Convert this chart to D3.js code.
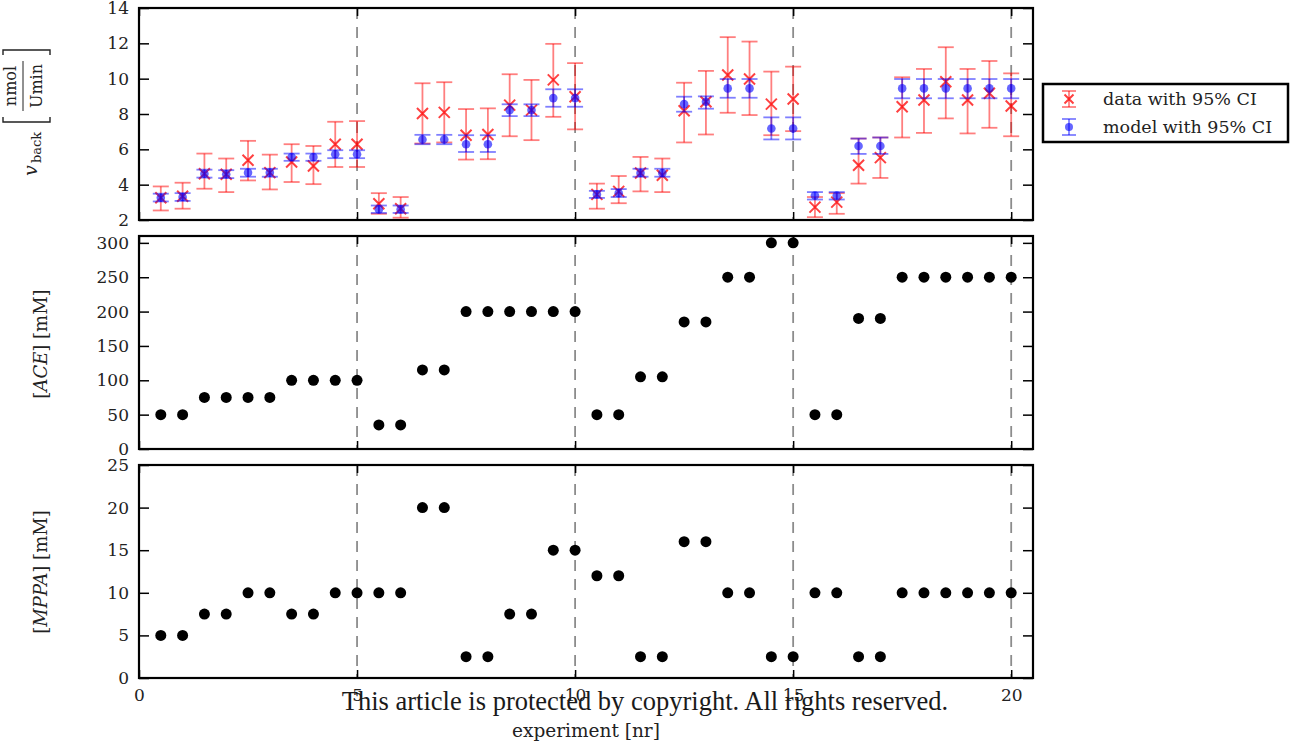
<!DOCTYPE html>
<html>
<head>
<meta charset="utf-8">
<script src="https://cdn.jsdelivr.net/npm/d3@7"></script>
<style>
  html, body { margin: 0; padding: 0; background: #fff; }
  svg { display: block; }
</style>
</head>
<body>
<svg id="chart" width="1291" height="742"></svg>
<script>
// Experiment index (two replicates per experiment)
const experiment = [0.5, 1, 1.5, 2, 2.5, 3, 3.5, 4, 4.5, 5,
                    5.5, 6, 6.5, 7, 7.5, 8, 8.5, 9, 9.5, 10,
                    10.5, 11, 11.5, 12, 12.5, 13, 13.5, 14, 14.5, 15,
                    15.5, 16, 16.5, 17, 17.5, 18, 18.5, 19, 19.5, 20];

// Measured back-reaction rate with 95% CI
const rateData   = [3.26, 3.34, 4.62, 4.59, 5.38, 4.68, 5.28, 5.06, 6.29, 6.29,
                    2.92, 2.64, 8.03, 8.09, 6.80, 6.84, 8.50, 8.22, 9.93, 8.98,
                    3.45, 3.62, 4.66, 4.53, 8.18, 8.69, 10.21, 9.98, 8.56, 8.85,
                    2.73, 3.01, 5.10, 5.53, 8.41, 8.79, 9.83, 8.79, 9.17, 8.45];
const rateDataLo = [2.54, 2.64, 3.77, 3.58, 4.24, 3.73, 4.15, 4.03, 5.00, 5.00,
                    2.35, 2.13, 6.33, 6.39, 5.42, 5.44, 6.74, 6.52, 7.84, 7.13,
                    2.64, 2.95, 3.62, 3.58, 6.39, 6.84, 8.07, 7.94, 6.80, 7.03,
                    2.16, 2.35, 4.06, 4.38, 6.67, 6.93, 7.75, 6.90, 7.22, 6.74];
const rateDataHi = [3.90, 4.11, 5.76, 5.48, 6.48, 5.70, 6.29, 6.19, 7.56, 7.60,
                    3.52, 3.30, 9.74, 9.80, 8.28, 8.32, 10.25, 9.93, 11.97, 10.88,
                    4.06, 4.49, 5.57, 5.48, 9.77, 10.44, 12.35, 12.10, 10.40, 10.68,
                    3.30, 3.52, 6.61, 6.67, 10.08, 10.55, 11.78, 10.55, 11.00, 10.30];

// Model prediction with 95% CI
const rateModel   = [3.26, 3.30, 4.62, 4.59, 4.68, 4.68, 5.57, 5.57, 5.72, 5.72,
                     2.60, 2.60, 6.56, 6.56, 6.29, 6.29, 8.22, 8.22, 8.90, 8.90,
                     3.45, 3.52, 4.66, 4.66, 8.56, 8.69, 9.45, 9.45, 7.18, 7.18,
                     3.39, 3.39, 6.19, 6.19, 9.45, 9.45, 9.45, 9.45, 9.45, 9.45];
const rateModelLo = [3.05, 3.08, 4.40, 4.37, 4.45, 4.45, 5.35, 5.35, 5.50, 5.50,
                     2.40, 2.40, 6.29, 6.29, 5.85, 5.85, 7.88, 7.88, 8.41, 8.41,
                     3.25, 3.30, 4.45, 4.45, 8.13, 8.30, 8.92, 8.92, 6.56, 6.56,
                     3.16, 3.16, 5.74, 5.74, 8.89, 8.89, 8.89, 8.89, 8.89, 8.89];
const rateModelHi = [3.49, 3.52, 4.85, 4.82, 4.90, 4.90, 5.76, 5.76, 5.95, 5.95,
                     2.82, 2.82, 6.82, 6.82, 6.80, 6.80, 8.55, 8.55, 9.40, 9.40,
                     3.65, 3.75, 4.90, 4.90, 8.98, 9.00, 9.98, 9.98, 7.81, 7.81,
                     3.58, 3.58, 6.61, 6.67, 9.98, 9.98, 9.98, 9.98, 9.98, 9.98];

// Substrate concentrations [mM]
const aceConc  = [50, 50, 75, 75, 75, 75, 100, 100, 100, 100,
                  35, 35, 115, 115, 200, 200, 200, 200, 200, 200,
                  50, 50, 105, 105, 185, 185, 250, 250, 300, 300,
                  50, 50, 190, 190, 250, 250, 250, 250, 250, 250];
const mppaConc = [5, 5, 7.5, 7.5, 10, 10, 7.5, 7.5, 10, 10,
                  10, 10, 20, 20, 2.5, 2.5, 7.5, 7.5, 15, 15,
                  12, 12, 2.5, 2.5, 16, 16, 10, 10, 2.5, 2.5,
                  10, 10, 2.5, 2.5, 10, 10, 10, 10, 10, 10];

// Tick values
const rateTicks = [2, 4, 6, 8, 10, 12, 14];
const aceTicks  = [0, 50, 100, 150, 200, 250, 300];
const mppaTicks = [0, 5, 10, 15, 20, 25];
const expTicks  = [0, 5, 10, 15, 20];
const batchBounds = [5, 10, 15, 20];

const legendLabels = ["data with 95% CI", "model with 95% CI"];

// ---------------------------------------------------------------
const svg = d3.select("#chart");
const serif = "'DejaVu Serif', serif";
const left = 139, right = 1033;

const x = d3.scaleLinear().domain([0, 20.5]).range([left, right]);

const panels = [
  { top: 8, bottom: 220, domain: [2, 14],  ticks: rateTicks },
  { top: 236, bottom: 449, domain: [0, 310], ticks: aceTicks },
  { top: 465, bottom: 678, domain: [0, 25],  ticks: mppaTicks }
];
panels.forEach(p => {
  p.y = d3.scaleLinear().domain(p.domain).range([p.bottom, p.top]);
});

function styleAxis(g) {
  g.select(".domain").remove();
  g.selectAll(".tick line").attr("stroke", "#000").attr("stroke-width", 1.5);
  g.selectAll(".tick text")
    .attr("font-family", serif).attr("font-size", 17).attr("fill", "#222");
}

panels.forEach((p, i) => {
  const g = svg.append("g");

  // dashed separators between experiment batches
  g.selectAll("line.batch").data(batchBounds).join("line")
    .attr("class", "batch")
    .attr("x1", d => x(d)).attr("x2", d => x(d))
    .attr("y1", p.top).attr("y2", p.bottom)
    .attr("stroke", "#8c8c8c").attr("stroke-width", 1.8)
    .attr("stroke-dasharray", "11,8");

  g.append("g").attr("transform", `translate(${left},0)`)
    .call(d3.axisLeft(p.y).tickValues(p.ticks).tickSizeInner(-10).tickSizeOuter(0).tickPadding(10))
    .call(styleAxis);
  g.append("g").attr("transform", `translate(${right},0)`)
    .call(d3.axisRight(p.y).tickValues(p.ticks).tickSizeInner(-10).tickSizeOuter(0).tickFormat(""))
    .call(styleAxis);
  g.append("g").attr("transform", `translate(0,${p.top})`)
    .call(d3.axisTop(x).tickValues(expTicks).tickSizeInner(-8).tickSizeOuter(0).tickFormat(""))
    .call(styleAxis);
  const bottomAxis = d3.axisBottom(x).tickValues(expTicks).tickSizeInner(-8).tickSizeOuter(0).tickPadding(11);
  if (i < panels.length - 1) bottomAxis.tickFormat("");
  g.append("g").attr("transform", `translate(0,${p.bottom})`)
    .call(bottomAxis)
    .call(styleAxis);

  p.g = g;
});

// --- top panel: error bars ---
const pTop = panels[0];
const capHalf = 8;

function errorBars(g, lo, hi, color) {
  const eb = g.append("g").attr("stroke", color).attr("stroke-opacity", 0.5).attr("stroke-width", 1.8);
  experiment.forEach((e, i) => {
    const cx = x(e), y0 = pTop.y(lo[i]), y1 = pTop.y(hi[i]);
    eb.append("line").attr("x1", cx).attr("x2", cx).attr("y1", y0).attr("y2", y1);
    eb.append("line").attr("x1", cx - capHalf).attr("x2", cx + capHalf).attr("y1", y0).attr("y2", y0);
    eb.append("line").attr("x1", cx - capHalf).attr("x2", cx + capHalf).attr("y1", y1).attr("y2", y1);
  });
}

errorBars(pTop.g, rateDataLo, rateDataHi, "#ff0000");
pTop.g.append("g").selectAll("path").data(experiment).join("path")
  .attr("d", (e, i) => {
    const cx = x(e), cy = pTop.y(rateData[i]), s = 5.5;
    return `M${cx - s},${cy - s}L${cx + s},${cy + s}M${cx - s},${cy + s}L${cx + s},${cy - s}`;
  })
  .attr("stroke", "#ff0000").attr("stroke-opacity", 0.75).attr("stroke-width", 2).attr("fill", "none");

errorBars(pTop.g, rateModelLo, rateModelHi, "#0000ff");
pTop.g.append("g").selectAll("circle").data(experiment).join("circle")
  .attr("cx", e => x(e)).attr("cy", (e, i) => pTop.y(rateModel[i]))
  .attr("r", 4.3).attr("fill", "#0000ff").attr("fill-opacity", 0.6);

// --- concentration panels ---
[[panels[1], aceConc], [panels[2], mppaConc]].forEach(([p, vals]) => {
  p.g.append("g").selectAll("circle").data(experiment).join("circle")
    .attr("cx", e => x(e)).attr("cy", (e, i) => p.y(vals[i]))
    .attr("r", 5.5).attr("fill", "#000");
});

// panel frames
panels.forEach(p => {
  svg.append("rect")
    .attr("x", left).attr("y", p.top)
    .attr("width", right - left).attr("height", p.bottom - p.top)
    .attr("fill", "none").attr("stroke", "#000").attr("stroke-width", 2.2);
});

// --- axis labels ---
svg.append("text")
  .attr("x", 586).attr("y", 737)
  .attr("text-anchor", "middle")
  .attr("font-family", serif).attr("font-size", 18.5).attr("fill", "#222")
  .text("experiment [nr]");

function concLabel(cy, species) {
  const t = svg.append("text")
    .attr("transform", `translate(47,${cy}) rotate(-90)`)
    .attr("text-anchor", "middle")
    .attr("font-family", serif).attr("font-size", 18).attr("fill", "#222");
  t.append("tspan").text("[");
  t.append("tspan").attr("font-style", "italic").text(species);
  t.append("tspan").text("] [mM]");
}
concLabel(344, "ACE");
concLabel(572, "MPPA");

// rate label: v_back [nmol / U min]
const rl = svg.append("g")
  .attr("transform", "translate(22,112) rotate(-90)")
  .attr("font-family", serif).attr("fill", "#222");
rl.append("text").attr("x", -64).attr("y", 15).attr("font-size", 19)
  .attr("font-style", "italic").text("v");
rl.append("text").attr("x", -51).attr("y", 19).attr("font-size", 13).text("back");
rl.append("path").attr("d", "M-5,-19H-10V28H-5")
  .attr("fill", "none").attr("stroke", "#222").attr("stroke-width", 1.4);
rl.append("path").attr("d", "M57,-19H62V28H57")
  .attr("fill", "none").attr("stroke", "#222").attr("stroke-width", 1.4);
rl.append("text").attr("x", 26).attr("y", -6).attr("font-size", 16)
  .attr("text-anchor", "middle").text("nmol");
rl.append("line").attr("x1", 1).attr("x2", 51).attr("y1", 1).attr("y2", 1)
  .attr("stroke", "#222").attr("stroke-width", 1);
rl.append("text").attr("x", 26).attr("y", 20).attr("font-size", 16)
  .attr("text-anchor", "middle").text("Umin");

// --- legend ---
const lg = svg.append("g");
lg.append("rect").attr("x", 1043).attr("y", 84).attr("width", 245).attr("height", 58)
  .attr("fill", "#fff").attr("stroke", "#000").attr("stroke-width", 2.5);

function legendBar(cy, color) {
  const g = lg.append("g").attr("stroke", color).attr("stroke-opacity", 0.5).attr("stroke-width", 1.8);
  g.append("line").attr("x1", 1069).attr("x2", 1069).attr("y1", cy - 8).attr("y2", cy + 8);
  g.append("line").attr("x1", 1069 - 7).attr("x2", 1069 + 7).attr("y1", cy - 8).attr("y2", cy - 8);
  g.append("line").attr("x1", 1069 - 7).attr("x2", 1069 + 7).attr("y1", cy + 8).attr("y2", cy + 8);
}
legendBar(99, "#ff0000");
lg.append("path").attr("d", "M1064.5,94.5L1073.5,103.5M1064.5,103.5L1073.5,94.5")
  .attr("stroke", "#ff0000").attr("stroke-opacity", 0.75).attr("stroke-width", 2);
legendBar(127, "#0000ff");
lg.append("circle").attr("cx", 1069).attr("cy", 127).attr("r", 4)
  .attr("fill", "#0000ff").attr("fill-opacity", 0.6);

lg.selectAll("text.leg").data(legendLabels).join("text")
  .attr("class", "leg")
  .attr("x", 1103).attr("y", (d, i) => 105 + i * 28)
  .attr("font-family", serif).attr("font-size", 17.5).attr("fill", "#222")
  .text(d => d);

// --- copyright notice ---
svg.append("text")
  .attr("x", 645).attr("y", 710)
  .attr("text-anchor", "middle")
  .attr("font-family", "'Liberation Serif', 'Times New Roman', serif")
  .attr("font-size", 26.5).attr("fill", "#1a1a1a")
  .text("This article is protected by copyright. All rights reserved.");
</script>
</body>
</html>
